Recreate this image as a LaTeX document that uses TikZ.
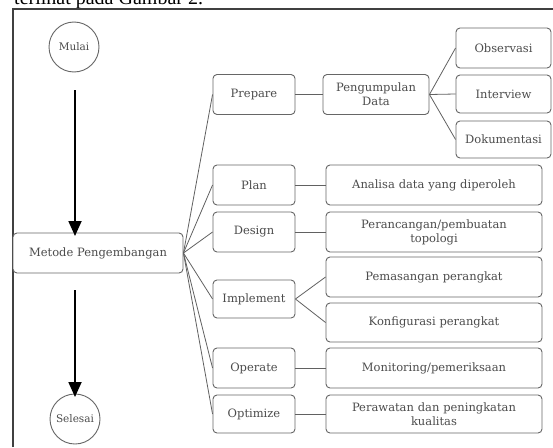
\documentclass[tikz,border=0pt]{standalone}
\usepackage{fontspec}
\setmainfont{DejaVu Serif}
\newfontfamily\hdrfont{Liberation Serif}
\usetikzlibrary{arrows.meta}
\definecolor{boxline}{gray}{0.40}
\definecolor{txt}{gray}{0.30}
\definecolor{conn}{gray}{0.38}
\tikzset{
  x=1pt, y=-1pt,
  box/.style={draw=boxline, line width=0.9pt, rounded corners=4pt, fill=white,
    text=txt, font=\fontsize{11.5}{14}\selectfont, align=center,
    inner sep=1pt, minimum height=40pt},
  lbox/.style={box, minimum width=82pt, text width=80pt},
  rbox/.style={box, minimum width=216pt, text width=212pt},
  obox/.style={box, minimum width=95pt, text width=93pt},
  circ/.style={draw=boxline, line width=0.9pt, circle, minimum size=50pt,
    text=txt, font=\fontsize{10.5}{13}\selectfont, inner sep=0pt},
  conn/.style={draw=conn, line width=0.8pt},
  bigarrow/.style={draw=black, line width=1.8pt,
    -{Triangle[length=15pt,width=13pt]}},
  frame/.style={draw=black!75, line width=1.3pt}
}
\begin{document}
\begin{tikzpicture}
\useasboundingbox (0,0) rectangle (553,447);
\fill[white] (0,0) rectangle (553,447);
% header text (cut off by the page edge, as in the reference)
\node[anchor=base west, inner sep=0pt, font=\hdrfont\fontsize{20}{24}\selectfont] (hdr) at (14,5) {terlihat pada Gambar 2.};
% frame
\coordinate (fbl) at (13,447);
\coordinate (ftl) at (13,9);
\coordinate (ftr) at (553,9);
\draw[frame] (fbl) -- (ftl) -- (ftr);

% start / end
\node[circ] (mulai) at (74,47) {Mulai};
\node[circ] (selesai) at (75,419) {Selesai};
\node[box, minimum width=170pt, text width=168pt] (metode) at (98,253) {Metode Pengembangan};

% big arrows
\coordinate (a1s) at (75,90);
\coordinate (a1e) at (75,236);
\coordinate (a2s) at (75,290);
\coordinate (a2e) at (75,397);
\draw[bigarrow] (a1s) -- (a1e);
\draw[bigarrow] (a2s) -- (a2e);

% phase boxes
\node[lbox] (prepare) at (254,94.5) {Prepare};
\node[lbox] (plan) at (254,185) {Plan};
\node[lbox] (design) at (254,232) {Design};
\node[lbox, minimum height=38pt] (implement) at (254,299) {Implement};
\node[lbox] (operate) at (254,368) {Operate};
\node[lbox, minimum height=38pt] (optimize) at (254,414) {Optimize};

% detail boxes
\node[box, minimum width=102pt, text width=104pt] (kumpul) at (376,94.5) {Pengumpulan\\Data};
\node[obox] (observasi) at (503.5,48) {Observasi};
\node[obox, minimum height=38pt] (interview) at (503.5,94) {Interview};
\node[obox, minimum height=37pt] (dokumentasi) at (503.5,139.5) {Dokumentasi};
\node[rbox] (analisa) at (434,185) {Analisa data yang diperoleh};
\node[rbox] (rancang) at (434,232) {Perancangan/pembuatan\\topologi};
\node[rbox] (pasang) at (434,277) {Pemasangan perangkat};
\node[rbox, minimum height=39pt] (konfig) at (434,322.5) {Konfigurasi perangkat};
\node[rbox] (monitor) at (434,368) {Monitoring/pemeriksaan};
\node[rbox, minimum height=38pt] (rawat) at (434,414) {Perawatan dan peningkatan\\kualitas};

% connectors
\foreach \t in {prepare,plan,design,implement,operate,optimize}
  \draw[conn] (metode.east) -- (\t.west);
\draw[conn] (prepare.east) -- (kumpul.west);
\foreach \t in {observasi,interview,dokumentasi}
  \draw[conn] (kumpul.east) -- (\t.west);
\draw[conn] (plan.east) -- (analisa.west);
\draw[conn] (design.east) -- (rancang.west);
\draw[conn] (implement.east) -- (pasang.west);
\draw[conn] (implement.east) -- (konfig.west);
\draw[conn] (operate.east) -- (monitor.west);
\draw[conn] (optimize.east) -- (rawat.west);
\end{tikzpicture}
\end{document}
